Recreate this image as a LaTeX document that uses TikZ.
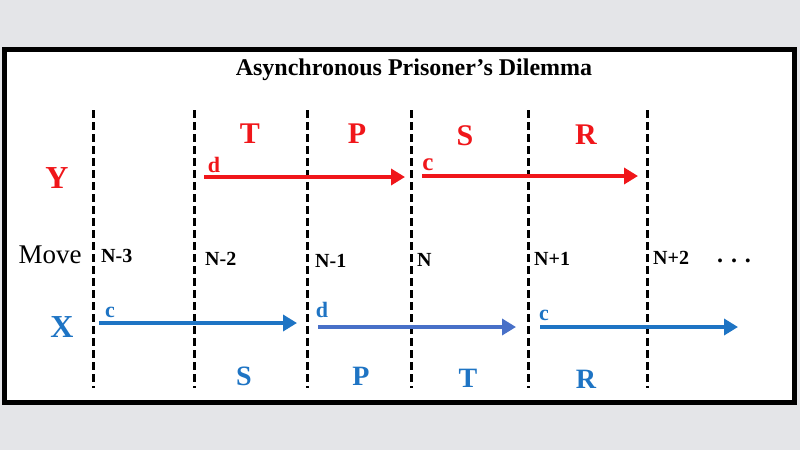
\documentclass[tikz,border=0pt]{standalone}
\usepackage{fontspec}
\setmainfont{Liberation Serif}
\usetikzlibrary{arrows.meta,positioning}
\tikzset{
  lbl/.style = {inner sep=0pt, anchor=base, font=\bfseries\fontsize{30}{30}\selectfont},
  lbl_y/.style = {lbl, text=my_red},
  lbl_x/.style = {lbl, text=my_blue},
  act/.style = {inner sep=0pt, anchor=base, font=\bfseries\fontsize{22}{22}\selectfont},
  mv/.style = {inner sep=0pt, anchor=base west, font=\bfseries\fontsize{20}{20}\selectfont}
}
\definecolor{my_red}{RGB}{240, 22, 26}
\definecolor{my_blue}{RGB}{30, 116, 196}
\definecolor{my_violet}{RGB}{72, 112, 200}
\definecolor{my_back}{RGB}{228, 229, 232}

\begin{document}
\begin{tikzpicture}[x=1pt,y=-1pt,
	        cut/.style={black, line width=3pt, dash pattern=on 8pt off 4pt},
	        move/.style={line width=4pt, -{Triangle[length=14pt,width=16pt]}}]
	        \fill[my_back] (0,0) rectangle (800,450);
	        \useasboundingbox (0,0) rectangle (800,450);
	        \draw[fill=white, line width=5pt] (4.5,49.5) rectangle (794,402.5);
	        \node[inner sep=0pt, anchor=base, font=\bfseries\fontsize{24}{24}\selectfont] (title) at (414,75) {Asynchronous Prisoner’s Dilemma};
	        % time steps
	        \foreach \x [count=\i] in {93,194,307,411,528,647}
	            \draw[cut] (\x,110) coordinate (t\i) -- (\x,388) coordinate (b\i);
	        % player Y
	        \node[lbl_y, font=\bfseries\fontsize{32}{32}\selectfont] (Y) at (57,188) {Y};
	        \node[lbl_y] (yT) at (250,143) {T};
	        \node[lbl_y] (yP) at (357,143) {P};
	        \node[lbl_y] (yS) at (465,145) {S};
	        \node[lbl_y] (yR) at (586,144) {R};
	        \node[act, text=my_red] (yd) at (214,172) {d};
	        \node[act, text=my_red, font=\bfseries\fontsize{25}{25}\selectfont] (yc) at (428,170) {c};
	        \coordinate (ya1) at (204,177);
	        \coordinate (yb1) at (405,177);
	        \coordinate (ya2) at (422,176);
	        \coordinate (yb2) at (638,176);
	        \draw[move, my_red] (ya1) -- (yb1);
	        \draw[move, my_red] (ya2) -- (yb2);
	        % moves
	        \node[inner sep=0pt, anchor=base, font=\fontsize{27}{27}\selectfont] (mv) at (50,263) {Move};
	        \node[mv] (n1) at (101,262) {N-3};
	        \node[mv] (n2) at (205,265) {N-2};
	        \node[mv] (n3) at (315,267) {N-1};
	        \node[mv] (n4) at (417,266) {N};
	        \node[mv] (n5) at (534,265) {N+1};
	        \node[mv] (n6) at (653,264) {N+2};
	        \node[mv, anchor=base, font=\bfseries\fontsize{24}{24}\selectfont] (dots) at (734,262) {.\hspace{8pt}.\hspace{8pt}.};
	        % player X
	        \node[lbl_x, font=\bfseries\fontsize{32}{32}\selectfont] (X) at (62,337) {X};
	        \node[lbl_x, font=\bfseries\fontsize{28}{28}\selectfont] (xS) at (244,385) {S};
	        \node[lbl_x, font=\bfseries\fontsize{28}{28}\selectfont] (xP) at (361,385) {P};
	        \node[lbl_x, font=\bfseries\fontsize{28}{28}\selectfont] (xT) at (468,387) {T};
	        \node[lbl_x, font=\bfseries\fontsize{28}{28}\selectfont] (xR) at (586,388) {R};
	        \node[act, text=my_blue] (xc1) at (110,317) {c};
	        \node[act, text=my_blue] (xd) at (322,317) {d};
	        \node[act, text=my_blue] (xc2) at (544,320) {c};
	        \coordinate (xa1) at (99,323);
	        \coordinate (xb1) at (297,323);
	        \coordinate (xa2) at (318,327);
	        \coordinate (xb2) at (516,327);
	        \coordinate (xa3) at (540,327);
	        \coordinate (xb3) at (738,327);
	        \draw[move, my_blue] (xa1) -- (xb1);
	        \draw[move, my_violet] (xa2) -- (xb2);
	        \draw[move, my_blue] (xa3) -- (xb3);
\end{tikzpicture}
\end{document}
